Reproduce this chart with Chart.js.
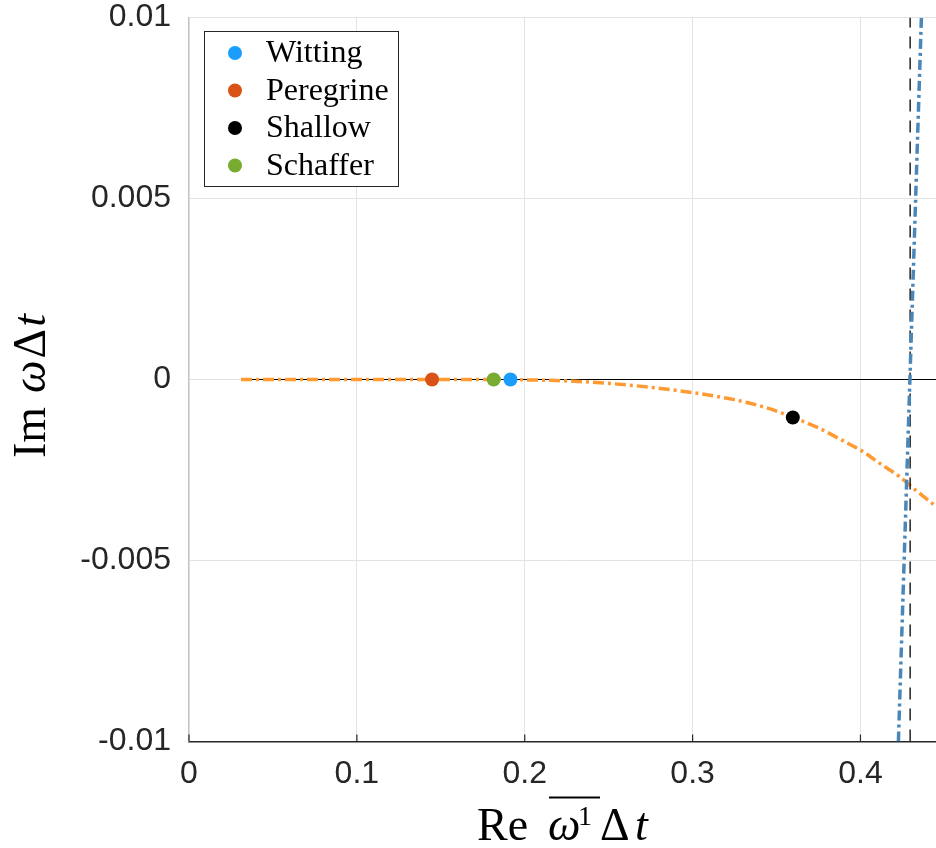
<!DOCTYPE html>
<html>
<head>
<meta charset="utf-8">
<script src="https://cdn.jsdelivr.net/npm/chart.js@4.4.1/dist/chart.umd.min.js"></script>
<style>
  html, body { margin: 0; padding: 0; background: #fff; }
  #grafica { display: block; }
</style>
</head>
<body>
<canvas id="grafica" width="936" height="848"></canvas>
<script>
// puntos de cada esquema
const metodos = ['Witting', 'Peregrine', 'Shallow', 'Schaffer'];
const coloresMetodo = ['#1a9dfc', '#d95319', '#000000', '#77ac30'];
const metodoRe = [0.1915, 0.1448, 0.3597, 0.1815];
const metodoIm = [0, 0, -0.00105, 0];

// curva naranja (punto-raya)
const curvaRe = [0.031, 0.08, 0.13, 0.17, 0.2, 0.22, 0.245, 0.274, 0.29, 0.304, 0.324, 0.344,
                 0.36, 0.3756, 0.3875, 0.4, 0.405, 0.4113, 0.4232, 0.4311, 0.4446];
const curvaIm = [0, 0, 0, 0, -0.00001, -0.00003, -0.00009, -0.00021, -0.0003, -0.00039, -0.00055, -0.00078,
                 -0.00105, -0.00135, -0.00164, -0.00195, -0.0021, -0.00231, -0.00268, -0.00299, -0.00349];

// recta azul casi vertical
const rectaRe = [0.4226, 0.4363];
const rectaIm = [-0.01, 0.01];

// limite discontinuo negro
const limiteRe = [0.4296, 0.4296];
const limiteIm = [-0.01, 0.01];

// eje Im = 0
const ceroRe = [0.031, 0.445];
const ceroIm = [0, 0];

const xTicks = ['0', '0.1', '0.2', '0.3', '0.4'];
const yTicks = ['-0.01', '-0.005', '0', '0.005', '0.01'];

const pares = (xs, ys) => xs.map((v, i) => ({ x: v, y: ys[i] }));

const serif = '"Liberation Serif", "Times New Roman", serif';

// sin margen extra por las etiquetas de los extremos
const sinPadding = s => {
  s.paddingTop = 0;
  s.paddingBottom = 0;
  s.paddingLeft = 0;
  s.paddingRight = 0;
};

const decorado = {
  id: 'decorado',
  afterDraw(chart) {
    const ctx = chart.ctx;
    const area = chart.chartArea;
    const ejeX = chart.scales.x;
    ctx.save();

    // marcas hacia dentro en el eje inferior
    ctx.strokeStyle = '#262626';
    ctx.lineWidth = 1.2;
    ejeX.ticks.forEach(t => {
      const px = ejeX.getPixelForValue(t.value);
      ctx.beginPath();
      ctx.moveTo(px, area.bottom);
      ctx.lineTo(px, area.bottom - 7);
      ctx.stroke();
    });

    // leyenda
    ctx.fillStyle = '#fff';
    ctx.fillRect(204.5, 31.5, 194, 155);
    ctx.strokeStyle = '#262626';
    ctx.lineWidth = 1;
    ctx.strokeRect(204.5, 31.5, 194, 155);
    ctx.font = '32px ' + serif;
    ctx.textBaseline = 'middle';
    ctx.textAlign = 'left';
    metodos.forEach((m, i) => {
      const y = 53 + i * 37.5;
      ctx.fillStyle = coloresMetodo[i];
      ctx.beginPath();
      ctx.arc(235, y, 7, 0, Math.PI * 2);
      ctx.fill();
      ctx.fillStyle = '#000';
      ctx.fillText(m, 266, y + 1);
    });

    // titulo eje x: Re ω¹Δt con barra
    ctx.fillStyle = '#000';
    ctx.textBaseline = 'alphabetic';
    ctx.font = '46px ' + serif;
    ctx.fillText('Re', 477, 840);
    ctx.font = 'italic 46px ' + serif;
    ctx.fillText('ω', 548, 840);
    ctx.font = '28px ' + serif;
    ctx.fillText('1', 578, 825);
    ctx.font = '46px ' + serif;
    ctx.fillText('Δ', 600, 840);
    ctx.font = 'italic 46px ' + serif;
    ctx.fillText('t', 635, 840);
    ctx.strokeStyle = '#000';
    ctx.lineWidth = 2.2;
    ctx.beginPath();
    ctx.moveTo(549, 797.5);
    ctx.lineTo(600, 797.5);
    ctx.stroke();

    // titulo eje y: Im ωΔt
    ctx.translate(45, 458);
    ctx.rotate(-Math.PI / 2);
    let pos = 0;
    ctx.font = '46px ' + serif;
    ctx.fillText('Im', pos, 0);
    pos += ctx.measureText('Im').width + 14;
    ctx.font = 'italic 46px ' + serif;
    ctx.fillText('ω', pos, 0);
    pos += ctx.measureText('ω').width + 2;
    ctx.font = '46px ' + serif;
    ctx.fillText('Δ', pos, 0);
    pos += ctx.measureText('Δ').width + 2;
    ctx.font = 'italic 46px ' + serif;
    ctx.fillText('t', pos, 0);

    ctx.restore();
  }
};

const datasets = metodos.map((m, i) => ({
  type: 'scatter',
  label: m,
  data: [{ x: metodoRe[i], y: metodoIm[i] }],
  backgroundColor: coloresMetodo[i],
  borderWidth: 0,
  pointRadius: 7,
  pointHoverRadius: 7
}));

datasets.push(
  {
    type: 'line', label: 'recta', data: pares(rectaRe, rectaIm),
    borderColor: '#4a87b8', borderWidth: 3.5, borderDash: [10, 4, 3, 4],
    pointRadius: 0, fill: false
  },
  {
    type: 'line', label: 'limite', data: pares(limiteRe, limiteIm),
    borderColor: '#222', borderWidth: 1.5, borderDash: [12, 9],
    pointRadius: 0, fill: false
  },
  {
    type: 'line', label: 'curva', data: pares(curvaRe, curvaIm),
    borderColor: '#ff9a33', borderWidth: 3.5, borderDash: [11, 4, 3, 4],
    pointRadius: 0, fill: false, cubicInterpolationMode: 'monotone'
  },
  {
    type: 'line', label: 'cero', data: pares(ceroRe, ceroIm),
    borderColor: '#000', borderWidth: 1.2,
    pointRadius: 0, fill: false
  }
);

new Chart(document.getElementById('grafica'), {
  type: 'scatter',
  data: { datasets },
  options: {
    responsive: false,
    devicePixelRatio: 1,
    animation: false,
    layout: { autoPadding: false, padding: { top: 17.5, right: 0, left: 0, bottom: 0 } },
    plugins: { legend: { display: false }, tooltip: { enabled: false } },
    scales: {
      x: {
        type: 'linear', min: 0, max: 0.445,
        afterFit: s => { s.height = 106.5; sinPadding(s); },
        grid: { color: '#e3e3e3', lineWidth: 1, drawTicks: false },
        border: { color: '#262626', width: 1.5 },
        ticks: {
          stepSize: 0.1, includeBounds: false, padding: 17,
          color: '#262626',
          font: { family: '"Liberation Sans", Arial, sans-serif', size: 32, lineHeight: 1 },
          callback: (v, i) => xTicks[i]
        }
      },
      y: {
        type: 'linear', min: -0.01, max: 0.01,
        afterFit: s => { s.width = 189; sinPadding(s); },
        grid: { color: '#e3e3e3', lineWidth: 1, drawTicks: false },
        border: { color: '#c4c4c4', width: 1.2 },
        ticks: {
          stepSize: 0.005, includeBounds: false, padding: 18,
          color: '#262626',
          font: { family: '"Liberation Sans", Arial, sans-serif', size: 32, lineHeight: 1 },
          callback: (v, i) => yTicks[i]
        }
      }
    }
  },
  plugins: [decorado]
});
</script>
</body>
</html>
